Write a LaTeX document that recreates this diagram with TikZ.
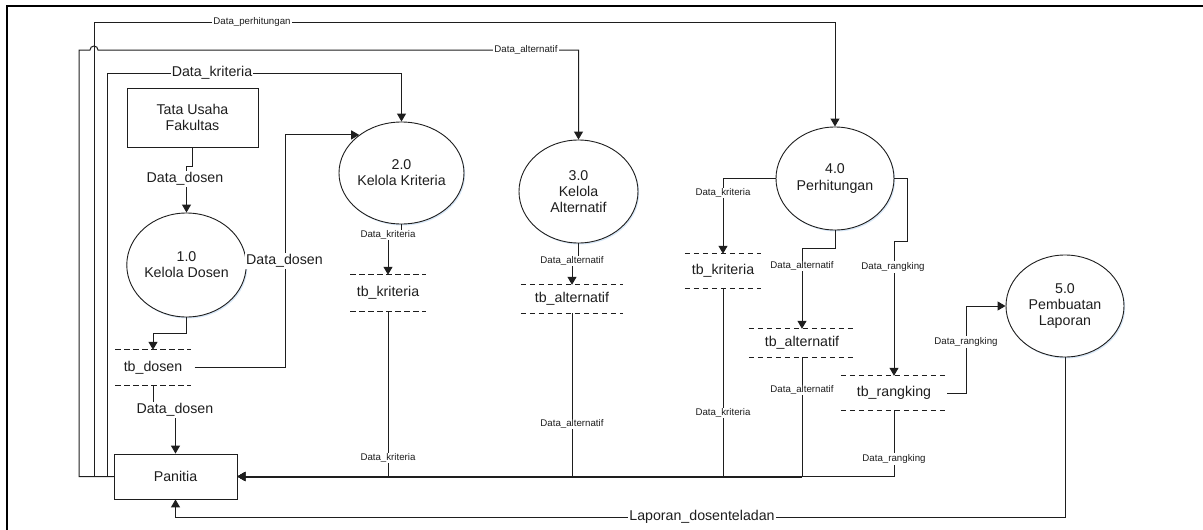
\documentclass[tikz,border=0pt]{standalone}
\usepackage{fontspec}
\setmainfont{Liberation Sans}
\usetikzlibrary{arrows.meta,shapes.geometric,shadows}
\newcommand\fbig{\fontsize{14.2}{16.2}\selectfont}
\newcommand\fsml{\fontsize{9.7}{11.5}\selectfont}
\definecolor{ink}{RGB}{30,30,30}
\definecolor{glow}{RGB}{205,225,245}
\begin{document}
\begin{tikzpicture}[x=1pt,y=-1pt,
  proc/.style={ellipse, draw=ink, line width=0.9pt, inner sep=0pt, align=center,
    font=\fbig, text=ink, fill=white,
    drop shadow={shadow xshift=1.2pt, shadow yshift=-1.5pt, fill=glow, opacity=0.8}},
  ent/.style={rectangle, draw=ink, line width=0.8pt, inner sep=0pt, align=center,
    font=\fbig, text=ink, fill=white,
    drop shadow={shadow xshift=1pt, shadow yshift=-1pt, fill=black!15, opacity=0.6}},
  store/.style={inner sep=0pt, font=\fbig, text=ink},
  sline/.style={draw=ink, line width=0.9pt, dash pattern=on 5.5pt off 3.5pt},
  flow/.style={draw=ink, line width=1pt, -{Triangle[length=8pt,width=9pt]}},
  trunk/.style={draw=ink, line width=2pt},
  lbig/.style={fill=white, font=\fbig, text=ink, inner sep=1pt},
  lsml/.style={fill=white, font=\fsml, text=ink, inner sep=1pt}]
\useasboundingbox (0,0) rectangle (1203,530);
% frame
\draw[line width=2pt, black] (7,530) -- (7,6) -- (1203,6);

% entities
\node[ent, minimum width=131pt, minimum height=59pt] (tu) at (192.5,117.5) {Tata Usaha\\Fakultas};
\node[ent, minimum width=123pt, minimum height=45pt] (pan) at (175.5,476.5) {Panitia};

% processes
\node[proc, minimum width=119pt, minimum height=104pt] (p1) at (186.5,265) {1.0\\Kelola Dosen};
\node[proc, minimum width=117pt, minimum height=102pt] (p2) at (401.5,173) {2.0\\Kelola Kriteria};
\node[proc, minimum width=119pt, minimum height=103pt] (p3) at (578.5,191.5) {3.0\\Kelola\\Alternatif};
\node[proc, minimum width=118pt, minimum height=103pt] (p4) at (835,178.5) {4.0\\Perhitungan};
\node[proc, minimum width=118pt, minimum height=102pt] (p5) at (1065,306) {5.0\\Pembuatan\\Laporan};

% data stores
\node[store, minimum width=75pt,  minimum height=35pt] (s1) at (153,367.5) {tb\_dosen};
\node[store, minimum width=75pt,  minimum height=36pt] (s2) at (388,293) {tb\_kriteria};
\node[store, minimum width=102pt, minimum height=28pt] (s3) at (572,299) {tb\_alternatif};
\node[store, minimum width=76pt,  minimum height=34pt] (s4) at (723,271) {tb\_kriteria};
\node[store, minimum width=106pt, minimum height=28pt] (s5) at (802,343) {tb\_alternatif};
\node[store, minimum width=106pt, minimum height=34pt] (s6) at (894,393) {tb\_rangking};
\foreach \s in {s1,s2,s3,s4,s5,s6}{
  \draw[sline] (\s.north west) -- (\s.north east);
  \draw[sline] (\s.south west) -- (\s.south east);
}

% flows
\draw[flow] (tu.south) -- (192.5,166) -| (p1.north);
\draw[flow] (p1.south) -- (186.5,333) -| (s1.north);
\draw[flow] ([xshift=4pt]s1.east) -- (285,367.5) |- (p2.138);
\draw[flow] (s1.south) -- (153,410) -| (pan.north);
\draw[flow] (pan.west) -- (107,476.5) -- (107,73) -| (p2.north);
\draw[flow] (pan.west) -- (79,476.5) -- (79,50) -- (90,50)
   arc[start angle=180, end angle=360, radius=4] -| (p3.north);
\draw[flow] (pan.west) -- (94,476.5) -- (94,22) -| (p4.north);
\draw[flow] (p2.south) -- (401.5,235) -| (s2.north);
\draw[flow] (p3.south) -- (578.5,261) -| (s3.north);
\draw[flow] (p4.west) -| (s4.north);
\draw[flow] (p4.south) -- (835,248) -| (s5.north);
\draw[flow] (p4.east) -- (907,178.5) -- (907,241) -| (s6.north);
\draw[flow] (s6.east) -- (966,393) |- (p5.west);
\draw[trunk] (s5.south |- pan.east) -- ([xshift=8pt]pan.east);
\draw[flow] (s2.south) |- (pan.east);
\draw[flow] (s3.south) |- (pan.east);
\draw[flow] (s4.south) |- (pan.east);
\draw[flow] (s5.south) |- (pan.east);
\draw[flow] (s6.south) |- (pan.east);
\draw[flow] (p5.south) -- (1065,517) -| (pan.south);

% labels
\node[lbig] (l1) at (185,179) {Data\_dosen};
\node[lbig] (l2) at (284.5,261) {Data\_dosen};
\node[lbig] (l3) at (175,410) {Data\_dosen};
\node[lbig] (l4) at (212,73) {Data\_kriteria};
\node[lsml] (l5) at (526,50) {Data\_alternatif};
\node[lsml] (l6) at (252,22) {Data\_perhitungan};
\node[lsml] (l7) at (388,235) {Data\_kriteria};
\node[lsml] (l8) at (388,458) {Data\_kriteria};
\node[lsml] (l9) at (572,261) {Data\_alternatif};
\node[lsml] (l10) at (572,424) {Data\_alternatif};
\node[lsml] (l11) at (723,193) {Data\_kriteria};
\node[lsml] (l12) at (723,413) {Data\_kriteria};
\node[lsml] (l13) at (802,266) {Data\_alternatif};
\node[lsml] (l14) at (802,390) {Data\_alternatif};
\node[lsml] (l15) at (893,267) {Data\_rangking};
\node[lsml] (l16) at (894,459) {Data\_rangking};
\node[lsml] (l17) at (966,342) {Data\_rangking};
\node[lbig] (l18) at (702,517) {Laporan\_dosenteladan};
\end{tikzpicture}
\end{document}
